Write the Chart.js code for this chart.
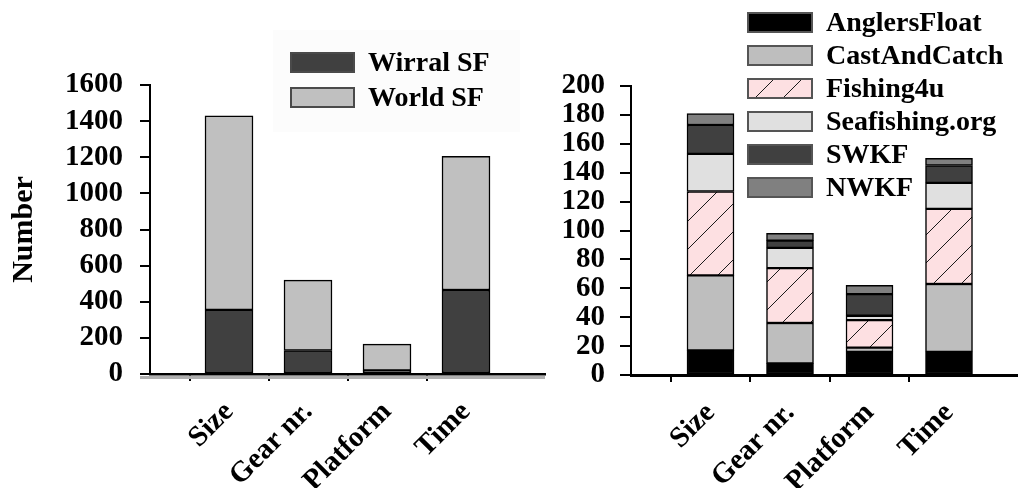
<!DOCTYPE html>
<html>
<head>
<meta charset="utf-8">
<script src="https://cdn.jsdelivr.net/npm/chart.js@4.4.1/dist/chart.umd.min.js"></script>
<style>
  html, body { margin: 0; padding: 0; background: #fff; overflow: hidden; width: 1018px; height: 488px; }
  #wrap { position: relative; width: 1018px; height: 488px; overflow: hidden; }
  #leftChart { position: absolute; left: 0; top: 0; }
  #rightChart { position: absolute; left: 545px; top: 0; }
</style>
</head>
<body>
<div id="wrap">
  <canvas id="leftChart" width="560" height="488"></canvas>
  <canvas id="rightChart" width="495" height="488"></canvas>
</div>
<script>
// Categories (empty slots at both ends keep the bars away from the axes)
const categories = ['', 'Size', 'Gear nr.', 'Platform', 'Time', ''];

// Left panel: Wirral SF vs World SF
const wirralSF = [null, 355, 130, 20, 465, null];
const worldSF  = [null, 1075, 390, 145, 740, null];
const leftTicks = [0, 200, 400, 600, 800, 1000, 1200, 1400, 1600];

// Right panel: sources stacked
const anglersFloat  = [null, 17, 8, 16, 16, null];
const castAndCatch  = [null, 52, 28, 3, 47, null];
const fishing4u     = [null, 58, 38, 19, 52, null];
const seafishingOrg = [null, 26, 14, 3, 18, null];
const swkf          = [null, 20, 5, 15, 12, null];
const nwkf          = [null, 8, 5, 6, 5, null];
const rightTicks = [0, 20, 40, 60, 80, 100, 120, 140, 160, 180, 200];

const SERIF = "'Liberation Serif', 'Times New Roman', serif";

// Pink fill with thin diagonal hatching
function hatchPattern(bg) {
  const c = document.createElement('canvas');
  c.width = 28; c.height = 28;
  const g = c.getContext('2d');
  g.fillStyle = bg;
  g.fillRect(0, 0, 28, 28);
  g.strokeStyle = '#1a1a1a';
  g.lineWidth = 1;
  g.beginPath();
  g.moveTo(-2, 30); g.lineTo(30, -2);
  g.stroke();
  return g.createPattern(c, 'repeat');
}

// Legend drawn as stacked rows of box + label
const boxLegend = {
  id: 'boxLegend',
  afterDraw(chart, args, o) {
    const ctx = chart.ctx;
    ctx.save();
    chart.data.datasets.forEach((ds, i) => {
      const y = o.y + i * o.rowGap;
      ctx.fillStyle = ds.backgroundColor;
      ctx.fillRect(o.x, y, o.boxW, o.boxH);
      ctx.strokeStyle = o.boxBorder;
      ctx.lineWidth = 2;
      ctx.strokeRect(o.x, y, o.boxW, o.boxH);
      ctx.fillStyle = '#000';
      ctx.font = 'bold ' + o.fontSize + 'px ' + SERIF;
      ctx.textBaseline = 'middle';
      ctx.textAlign = 'left';
      ctx.fillText(ds.label, o.x + o.boxW + o.gap, y + o.boxH / 2 + 1);
    });
    ctx.restore();
  },
  beforeDraw(chart, args, o) {
    if (!o.panel) return;
    const ctx = chart.ctx;
    ctx.save();
    ctx.fillStyle = '#fcfcfc';
    ctx.fillRect(o.panel[0], o.panel[1], o.panel[2], o.panel[3]);
    ctx.restore();
  }
};

// Soft grey shadow under the category axis
const axisShadow = {
  id: 'axisShadow',
  beforeDatasetsDraw(chart, args, o) {
    if (!o.color) return;
    const x = chart.scales.x;
    const ctx = chart.ctx;
    ctx.save();
    ctx.strokeStyle = o.color;
    ctx.lineWidth = 3;
    ctx.beginPath();
    ctx.moveTo(x.left - 10, x.top + 3.5);
    ctx.lineTo(x.right, x.top + 3.5);
    ctx.stroke();
    ctx.restore();
  }
};

function xScale(height, borderWidth) {
  return {
    type: 'category',
    stacked: true,
    offset: false,
    grid: {
      drawOnChartArea: false,
      drawTicks: true,
      tickLength: 7,
      lineWidth: 2,
      color: c => (categories[c.index] ? '#000' : 'rgba(0,0,0,0)')
    },
    border: { display: true, color: '#000', width: borderWidth },
    ticks: {
      autoSkip: false,
      maxRotation: 45,
      minRotation: 45,
      padding: 14,
      color: '#000',
      font: { family: SERIF, size: 29, weight: 'bold' }
    },
    afterFit(s) {
      s.height = height;
      s.paddingLeft = 0;
      s.paddingRight = 0;
    }
  };
}

function yScale(ticks, width, tickLen, pad, title) {
  return {
    type: 'linear',
    stacked: true,
    min: ticks[0],
    max: ticks[ticks.length - 1],
    afterBuildTicks(s) { s.ticks = ticks.map(v => ({ value: v })); },
    grid: {
      drawOnChartArea: false,
      drawTicks: true,
      tickLength: tickLen,
      lineWidth: 2,
      color: '#000'
    },
    border: { display: true, color: '#000', width: 2 },
    ticks: {
      autoSkip: false,
      padding: pad,
      color: '#000',
      font: { family: SERIF, size: 29, weight: 'bold' },
      callback: v => String(v)
    },
    title: title ? {
      display: true,
      text: title,
      color: '#000',
      padding: { top: 6, bottom: 0 },
      font: { family: SERIF, size: 30, weight: 'bold' }
    } : { display: false },
    afterFit(s) { s.width = width; }
  };
}

function barSet(label, data, color, thickness) {
  return {
    label, data,
    backgroundColor: color,
    borderColor: '#000',
    borderWidth: 1.5,
    borderSkipped: false,
    barThickness: thickness
  };
}

const commonPlugins = {
  legend: { display: false },
  tooltip: { enabled: false }
};

new Chart(document.getElementById('leftChart'), {
  type: 'bar',
  data: {
    labels: categories,
    datasets: [
      barSet('Wirral SF', wirralSF, '#404040', 48),
      barSet('World SF', worldSF, '#c0c0c0', 48)
    ]
  },
  options: {
    responsive: false,
    animation: false,
    devicePixelRatio: 1,
    layout: { padding: { top: 85, right: 15, bottom: 0, left: 0 } },
    scales: {
      x: xScale(114, 2.5),
      y: yScale(leftTicks, 150, 10, 17, 'Number')
    },
    plugins: Object.assign({}, commonPlugins, {
      boxLegend: { x: 291, y: 53, rowGap: 35, boxW: 63, boxH: 19, gap: 14, fontSize: 28,
                   boxBorder: '#4a4a4a', panel: [273, 30, 247, 102] },
      axisShadow: { color: '#b0b0b0' }
    })
  },
  plugins: [boxLegend, axisShadow]
});

new Chart(document.getElementById('rightChart'), {
  type: 'bar',
  data: {
    labels: categories,
    datasets: [
      barSet('AnglersFloat', anglersFloat, '#000000', 47),
      barSet('CastAndCatch', castAndCatch, '#bebebe', 47),
      barSet('Fishing4u', fishing4u, hatchPattern('#fde0e2'), 47),
      barSet('Seafishing.org', seafishingOrg, '#e0e0e0', 47),
      barSet('SWKF', swkf, '#404040', 47),
      barSet('NWKF', nwkf, '#808080', 47)
    ]
  },
  options: {
    responsive: false,
    animation: false,
    devicePixelRatio: 1,
    layout: { padding: { top: 86, right: 11.5, bottom: 0, left: 0 } },
    scales: {
      x: xScale(113, 3),
      y: yScale(rightTicks, 86, 11, 15, null)
    },
    plugins: Object.assign({}, commonPlugins, {
      boxLegend: { x: 203, y: 13, rowGap: 33, boxW: 64, boxH: 19, gap: 14, fontSize: 28,
                   boxBorder: '#555555' },
      axisShadow: { color: null }
    })
  },
  plugins: [boxLegend, axisShadow]
});
</script>
</body>
</html>
